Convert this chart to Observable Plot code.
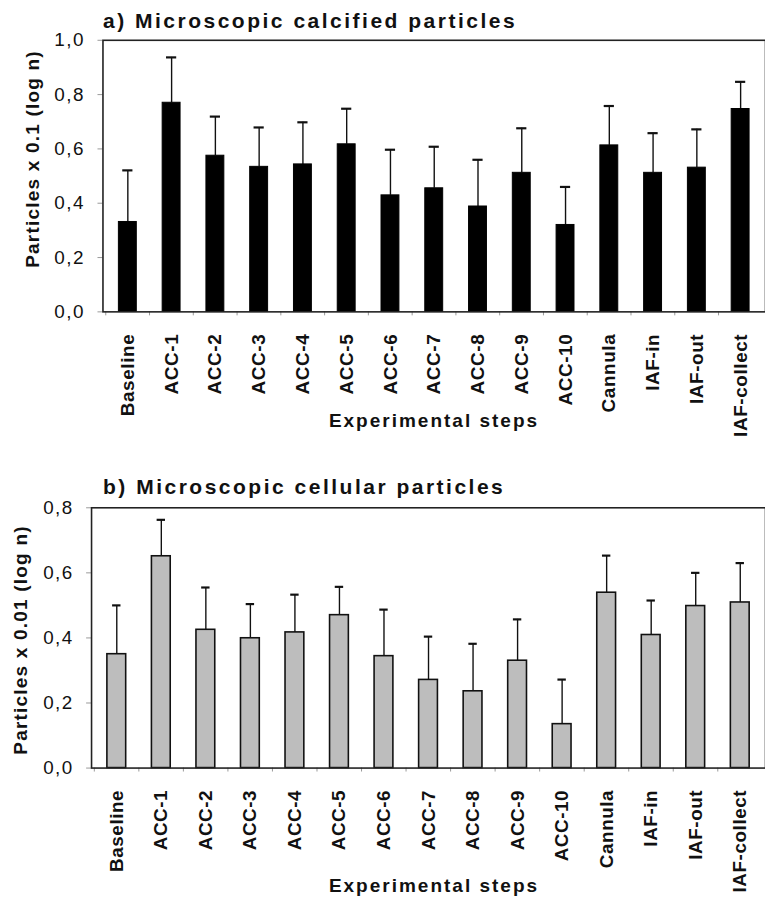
<!DOCTYPE html>
<html>
<head>
<meta charset="utf-8">
<script src="https://cdn.jsdelivr.net/npm/d3@7"></script>
<script src="https://cdn.jsdelivr.net/npm/@observablehq/plot@0.6"></script>
<style>
  html, body { margin: 0; padding: 0; background: #fff; overflow: hidden; }
  #root { position: relative; width: 765px; height: 897px; overflow: hidden;
          font-family: "Liberation Sans", Arial, sans-serif; color: #111; }
  .panel { position: absolute; left: 0; z-index: 1; }
  .title, .ylab, .xlab { z-index: 2; }
  .title { position: absolute; font-weight: bold; font-size: 21px; letter-spacing: 2.5px; white-space: nowrap; line-height: 1; }
  .ylab { position: absolute; font-weight: bold; font-size: 19px; letter-spacing: 1.2px; white-space: nowrap; line-height: 1;
          transform: translate(-50%, -50%) rotate(-90deg); }
  .xlab { position: absolute; font-weight: bold; font-size: 19px; letter-spacing: 2px; white-space: nowrap; line-height: 1;
          transform: translate(-50%, -50%); }
  .panel svg g[aria-label="x-axis tick label"] text { font-weight: bold; letter-spacing: 0.6px; }
  .panel svg g[aria-label="y-axis tick label"] text { letter-spacing: 1.5px; }
</style>
</head>
<body>
<div id="root">
  <div class="panel" id="pa" style="top:0px;"></div>
  <div class="panel" id="pb" style="top:440px;"></div>

  <div class="title" style="left:103px; top:10px;">a) Microscopic calcified particles</div>
  <div class="ylab" style="left:32px; top:159px;">Particles x 0.1 (log n)</div>
  <div class="xlab" style="left:434px; top:420px;">Experimental steps</div>

  <div class="title" style="left:103px; top:476px;">b) Microscopic cellular particles</div>
  <div class="ylab" style="left:20px; top:640px;">Particles x 0.01 (log n)</div>
  <div class="xlab" style="left:434px; top:885px;">Experimental steps</div>
</div>
<script>
// ---- data ----
const steps = ["Baseline", "ACC-1", "ACC-2", "ACC-3", "ACC-4", "ACC-5", "ACC-6", "ACC-7",
               "ACC-8", "ACC-9", "ACC-10", "Cannula", "IAF-in", "IAF-out", "IAF-collect"];

// a) calcified particles x 0.1 (log n): mean and mean + error
const calcMean  = [0.331, 0.770, 0.575, 0.534, 0.543, 0.617, 0.429, 0.455, 0.388, 0.512, 0.320, 0.613, 0.512, 0.531, 0.747];
const calcUpper = [0.521, 0.937, 0.719, 0.679, 0.698, 0.748, 0.597, 0.608, 0.560, 0.676, 0.460, 0.758, 0.658, 0.672, 0.847];
const calcTicks = [0, 0.2, 0.4, 0.6, 0.8, 1.0];

// b) cellular particles x 0.01 (log n): mean and mean + error
const cellMean  = [0.350, 0.651, 0.425, 0.399, 0.417, 0.470, 0.344, 0.271, 0.236, 0.330, 0.135, 0.539, 0.409, 0.498, 0.509];
const cellUpper = [0.500, 0.763, 0.555, 0.504, 0.533, 0.557, 0.487, 0.404, 0.382, 0.457, 0.272, 0.653, 0.515, 0.600, 0.630];
const cellTicks = [0, 0.2, 0.4, 0.6, 0.8];

function panel(cfg) {
  const data = steps.map((s, i) => ({step: s, mean: cfg.mean[i], upper: cfg.upper[i]}));
  const stepPx = (cfg.width - cfg.ml) / steps.length;
  const bandPx = stepPx * (1 - cfg.pad);
  const capInset = (bandPx - cfg.cap) / 2;
  return Plot.plot({
    width: cfg.width, height: cfg.height,
    marginTop: cfg.mt, marginBottom: cfg.mb, marginLeft: cfg.ml, marginRight: 0,
    style: {fontFamily: '"Liberation Sans", Arial, sans-serif', background: "transparent", color: "#111", overflow: "visible"},
    x: {domain: steps, paddingInner: cfg.pad, paddingOuter: cfg.pad / 2, label: null},
    y: {domain: [0, cfg.ticks[cfg.ticks.length - 1]], label: null},
    marks: [
      Plot.ruleX(data, {x: "step", y1: "mean", y2: "upper", stroke: "#111", strokeWidth: 1.4}),
      Plot.tickY(data, {x: "step", y: "upper", stroke: "#111", strokeWidth: 2.2, insetLeft: capInset, insetRight: capInset}),
      Plot.barY(data, {x: "step", y: "mean", fill: cfg.fill, stroke: cfg.stroke, strokeWidth: cfg.strokeWidth}),
      Plot.axisY({ticks: cfg.ticks, tickFormat: d => d.toFixed(1).replace(".", ","), tickSize: 5,
                  tickPadding: 13, stroke: "#999", fontSize: 19, label: null}),
      Plot.axisX({tickSize: 4, text: null, dx: -stepPx / 2, stroke: "#999", label: null}),
      Plot.axisX({tickSize: 0, tickRotate: -90, tickPadding: 22, fontSize: 19, label: null}),
      Plot.frame({stroke: "#222", strokeWidth: 1.6})
    ]
  });
}

document.getElementById("pa").append(panel({
  mean: calcMean, upper: calcUpper, ticks: calcTicks,
  width: 769, height: 440, mt: 40, mb: 127, ml: 103,
  pad: 0.6, cap: 10, fill: "#000", stroke: "#000", strokeWidth: 1
}));

document.getElementById("pb").append(panel({
  mean: cellMean, upper: cellUpper, ticks: cellTicks,
  width: 773, height: 457, mt: 68, mb: 126, ml: 92,
  pad: 0.57, cap: 9, fill: "#bdbdbd", stroke: "#111", strokeWidth: 1.6
}));
</script>
</body>
</html>
